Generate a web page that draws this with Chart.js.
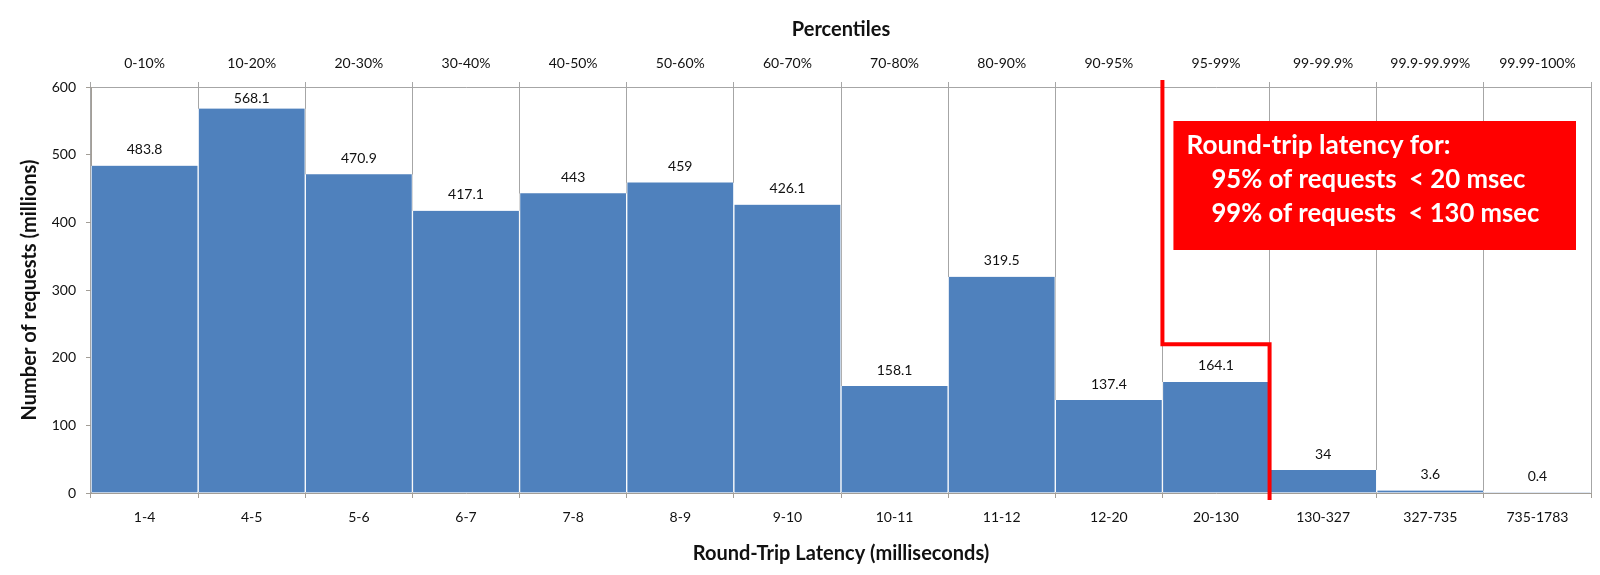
<!DOCTYPE html>
<html><head><meta charset="utf-8">
<script src="https://cdn.jsdelivr.net/npm/chart.js@4"></script>
<style>html,body{margin:0;padding:0;background:#fff}#wrap{width:1600px;height:575px}</style>
</head><body>
<div id="wrap"><canvas id="c" width="1600" height="575"></canvas></div>
<script>
// ---- data ----
const latencyBins = ['1-4','4-5','5-6','6-7','7-8','8-9','9-10','10-11','11-12','12-20','20-130','130-327','327-735','735-1783'];
const percentileBins = ['0-10%','10-20%','20-30%','30-40%','40-50%','50-60%','60-70%','70-80%','80-90%','90-95%','95-99%','99-99.9%','99.9-99.99%','99.99-100%'];
const requestsMillions = [483.8,568.1,470.9,417.1,443,459,426.1,158.1,319.5,137.4,164.1,34,3.6,0.4];
const yTickValues = [0,100,200,300,400,500,600];
const calloutLines = ['Round-trip latency for:','95% of requests  < 20 msec','99% of requests  < 130 msec'];
const thresholdStepValue = 220;   // height (millions) where the red threshold line steps right
const thresholdFromIndex = 9;     // line starts after this category (90-95%)

const FONT = 'Lato, "Open Sans", "Liberation Sans", sans-serif';
const GRID = '#a6a6a6';
const AXIS = '#a39e97';

const valueLabels = {
  id: 'valueLabels',
  afterDatasetsDraw(chart) {
    const ctx = chart.ctx, ca = chart.chartArea;
    const meta = chart.getDatasetMeta(0);
    ctx.save();
    ctx.font = '14px ' + FONT;
    ctx.fillStyle = '#111';
    ctx.textAlign = 'center';
    ctx.textBaseline = 'middle';
    meta.data.forEach((bar, i) => {
      const y = Math.max(bar.y - 16, ca.top + 11);
      ctx.fillText(String(requestsMillions[i]), bar.x, y);
    });
    ctx.restore();
  }
};

const threshold = {
  id: 'threshold',
  afterDraw(chart) {
    const ctx = chart.ctx, ca = chart.chartArea;
    const xs = chart.scales.x, ys = chart.scales.y;
    const half = (xs.getPixelForValue(1) - xs.getPixelForValue(0)) / 2;
    const xA = xs.getPixelForValue(thresholdFromIndex) + half;
    const xB = xs.getPixelForValue(thresholdFromIndex + 1) + half;
    const yS = ys.getPixelForValue(thresholdStepValue);
    ctx.save();
    ctx.strokeStyle = '#ff0000';
    ctx.lineWidth = 4;
    ctx.lineJoin = 'miter';
    ctx.beginPath();
    ctx.moveTo(xA, ca.top - 7);
    ctx.lineTo(xA, yS);
    ctx.lineTo(xB, yS);
    ctx.lineTo(xB, ca.bottom + 7);
    ctx.stroke();

    // callout box
    const bx = xA + 11, by = ca.top + 34, bw = ca.right - 15 - bx, bh = 129;
    ctx.fillStyle = '#ff0000';
    ctx.fillRect(bx, by, bw, bh);
    ctx.fillStyle = '#ffffff';
    ctx.font = 'bold 27px ' + FONT;
    ctx.textAlign = 'left';
    ctx.textBaseline = 'alphabetic';
    const targets = [264, 314, 328];
    calloutLines.forEach((t, i) => {
      const x = bx + (i === 0 ? 13 : 38);
      const y = by + 33 + i * 34;
      ctx.fillText(t, x, y, targets[i]);
    });
    ctx.restore();
  }
};

new Chart(document.getElementById('c'), {
  type: 'bar',
  data: {
    labels: latencyBins,
    datasets: [{
      data: requestsMillions,
      backgroundColor: '#4f81bd',
      borderColor: '#ffffff',
      borderWidth: {left: 1, right: 1, top: 0, bottom: 0},
      barPercentage: 1,
      categoryPercentage: 1,
      xAxisID: 'x',
      yAxisID: 'y'
    }]
  },
  options: {
    responsive: false,
    animation: false,
    devicePixelRatio: 1,
    layout: {padding: {left: 0, right: 9, top: 0, bottom: 0}},
    plugins: {legend: {display: false}, tooltip: {enabled: false}},
    scales: {
      x: {
        position: 'bottom',
        offset: true,
        grid: {offset: true, color: GRID, tickColor: AXIS, tickLength: 5, drawOnChartArea: true},
        border: {display: true, color: AXIS},
        ticks: {font: {family: FONT, size: 14}, color: '#111', padding: 11.5, maxRotation: 0, autoSkip: false},
        title: {display: true, text: 'Round-Trip Latency (milliseconds)', font: {family: FONT, size: 20, weight: 'bold'}, color: '#111', padding: {top: 0, bottom: 9}},
        afterFit(s) { s.height = 82; }
      },
      x2: {
        type: 'category',
        position: 'top',
        labels: percentileBins,
        offset: true,
        grid: {offset: true, color: GRID, tickColor: GRID, tickLength: 5, drawOnChartArea: false},
        border: {display: true, color: GRID},
        ticks: {font: {family: FONT, size: 14}, color: '#111', padding: 10.5, maxRotation: 0, autoSkip: false},
        title: {display: true, text: 'Percentiles', font: {family: FONT, size: 20, weight: 'bold'}, color: '#111', padding: {top: 18, bottom: 0}},
        afterFit(s) { s.height = 87; }
      },
      y: {
        position: 'left',
        min: 0, max: 600,
        afterBuildTicks(s) { s.ticks = yTickValues.map(v => ({value: v})); },
        grid: {drawOnChartArea: false, tickColor: AXIS, tickLength: 5},
        border: {display: true, color: AXIS},
        ticks: {font: {family: FONT, size: 14}, color: '#111', padding: 10},
        title: {display: true, text: 'Number of requests (millions)', font: {family: FONT, size: 20, weight: 'bold'}, color: '#111', padding: {top: 18, bottom: 0}},
        afterFit(s) { s.width = 91; }
      }
    }
  },
  plugins: [valueLabels, threshold]
});
</script>
</body></html>
